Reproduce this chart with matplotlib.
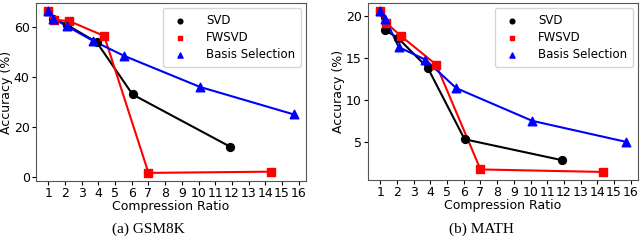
import matplotlib.pyplot as plt

# GSM8K
svd_x_gsm = [1, 1.3, 2.1, 3.9, 6.05, 11.9]
svd_y_gsm = [66.5, 63.5, 61, 54, 33, 12]
fw_x_gsm = [1, 1.35, 2.25, 4.35, 7.0, 14.35]
fw_y_gsm = [66.5, 63, 62.5, 56.5, 1.5, 2]
bs_x_gsm = [1, 1.3, 2.1, 3.7, 5.55, 10.1, 15.7]
bs_y_gsm = [66.5, 63.5, 60.5, 54.5, 48.5, 36, 25]

# MATH
svd_x_math = [1, 1.3, 2.05, 3.85, 6.05, 11.9]
svd_y_math = [20.6, 18.3, 17.4, 13.8, 5.3, 2.8]
fw_x_math = [1, 1.35, 2.25, 4.35, 7.0, 14.35]
fw_y_math = [20.6, 19.2, 17.6, 14.2, 1.7, 1.4]
bs_x_math = [1, 1.3, 2.1, 3.7, 5.55, 10.1, 15.7]
bs_y_math = [20.6, 19.7, 16.3, 14.8, 11.4, 7.5, 5.0]

xticks = list(range(1, 17))

fig = plt.figure(figsize=(6.4, 2.5), dpi=100)
ax1 = fig.add_axes([36 / 640, 1 - 181 / 250, 270 / 640, 178 / 250])
ax2 = fig.add_axes([368 / 640, 1 - 180 / 250, 270 / 640, 177 / 250])


def draw(ax, data, yticks):
    (sx, sy), (fx, fy), (bx, by) = data
    ax.plot(sx, sy, color='black', lw=1.5)
    ax.plot(fx, fy, color='red', lw=1.5)
    ax.plot(bx, by, color='blue', lw=1.5)
    ax.scatter(sx, sy, color='black', marker='o', s=32, label='SVD', zorder=3)
    ax.scatter(fx, fy, color='red', marker='s', s=32, label='FWSVD', zorder=3)
    ax.scatter(bx, by, color='blue', marker='^', s=38, label='Basis Selection', zorder=3)
    ax.set_xticks(xticks)
    ax.set_yticks(yticks)
    ax.tick_params(labelsize=9, length=3, pad=1.5)
    ax.set_xlabel('Compression Ratio', fontsize=9, labelpad=0)
    ax.set_ylabel('Accuracy (%)', fontsize=9, labelpad=0.5)
    ax.legend(loc='upper right', fontsize=8.5, markerscale=0.6,
              handletextpad=1.2, borderpad=0.5, labelspacing=0.35,
              borderaxespad=0.4)
    for s in ax.spines.values():
        s.set_color('#555555')


draw(ax1, [(svd_x_gsm, svd_y_gsm), (fw_x_gsm, fw_y_gsm), (bs_x_gsm, bs_y_gsm)],
     [0, 20, 40, 60])
draw(ax2, [(svd_x_math, svd_y_math), (fw_x_math, fw_y_math), (bs_x_math, bs_y_math)],
     [5, 10, 15, 20])

fig.text(148 / 640, 1 - 229 / 250, '(a) GSM8K', ha='center', va='center',
         fontsize=11, family='Liberation Serif')
fig.text(481 / 640, 1 - 229 / 250, '(b) MATH', ha='center', va='center',
         fontsize=11, family='Liberation Serif')

fig.savefig('out.png', dpi=100)
